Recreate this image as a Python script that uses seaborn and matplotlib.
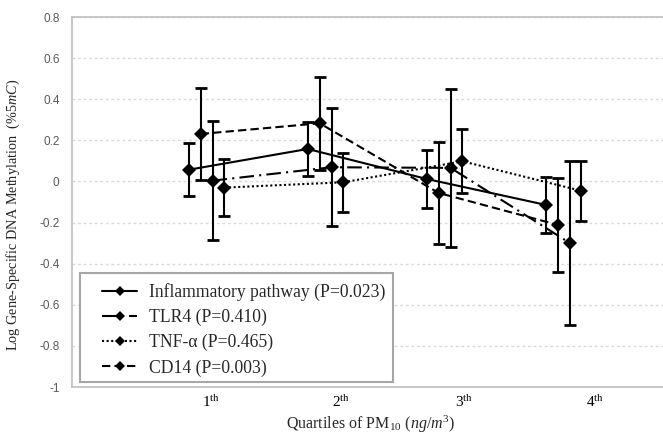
import numpy as np
import pandas as pd
import seaborn as sns
import matplotlib.pyplot as plt
from matplotlib.patches import Rectangle
from matplotlib.ticker import FuncFormatter

# quartiles of PM10 and the values
quartiles = [1, 2, 3, 4]
quartile_names = ['1', '2', '3', '4']
label_pos = [1.04, 2.13, 3.16, 4.26]

inflam = [0.057, 0.158, 0.012, -0.114]
inflam_err = [0.13, 0.13, 0.14, 0.135]
tlr4 = [0.004, 0.069, 0.066, -0.299]
tlr4_err = [0.29, 0.286, 0.385, 0.40]
tnf = [-0.03, -0.004, 0.098, -0.046]
tnf_err = [0.14, 0.143, 0.156, 0.146]
cd14 = [0.231, 0.283, -0.056, -0.211]
cd14_err = [0.225, 0.225, 0.246, 0.23]

names = ['Inflammatory pathway (P=0.023)', 'TLR4 (P=0.410)',
         'TNF-\u03b1 (P=0.465)', 'CD14 (P=0.003)']
values = [inflam, tlr4, tnf, cd14]
errors = [inflam_err, tlr4_err, tnf_err, cd14_err]
shift = [-0.15, 0.05, 0.15, -0.05]
styles = ['-', (0, (7, 2.5, 1, 2.5)), (0, (1, 1.2)), (0, (4, 2))]

sns.set_theme(style="white")
plt.rcParams['font.family'] = ['Liberation Serif', 'DejaVu Serif']
plt.rcParams['mathtext.fontset'] = 'custom'
plt.rcParams['mathtext.rm'] = 'Liberation Serif'
plt.rcParams['mathtext.it'] = 'Liberation Serif:italic'

fig = plt.figure(figsize=(6.63, 4.37), dpi=100)
ax = fig.add_axes([72 / 663, 50 / 437, 591 / 663, 370 / 437])

for name, vals, errs, dx, ls in zip(names, values, errors, shift, styles):
    df = pd.DataFrame({'x': np.array(quartiles) + dx, 'y': vals})
    ax.errorbar(df['x'], df['y'], yerr=errs, fmt='none', ecolor='black',
                elinewidth=1.5, capsize=4, capthick=2, zorder=3)
    sns.lineplot(data=df, x='x', y='y', ax=ax, color='black', lw=1.5,
                 linestyle=ls, marker='D', markersize=7, markeredgewidth=0,
                 errorbar=None, label=name, zorder=4)

ax.set_xlim(-0.131, 4.835)
ax.set_ylim(-1, 0.8)
ax.set_yticks(np.arange(-1, 0.81, 0.2))
ax.yaxis.set_major_formatter(FuncFormatter(lambda v, p: f"{round(v, 1) + 0:g}"))
ax.set_xticks(label_pos)
ax.set_xticklabels([q + r'$^{\rm th}$' for q in quartile_names], fontsize=11)
ax.tick_params(axis='x', length=0, pad=5, colors='black')
ax.tick_params(axis='y', length=4, width=1, color='#bfbfbf', pad=5,
               labelsize=8.5, labelcolor='#595959')
for lab in ax.get_yticklabels():
    lab.set_family('Liberation Sans')

ax.yaxis.grid(True, linestyle=(0, (2, 2)), color='#d9d9d9', lw=1)
ax.xaxis.grid(False)
ax.set_axisbelow(True)
for s in ['left', 'bottom', 'top']:
    ax.spines[s].set_color('#bfbfbf')
    ax.spines[s].set_linewidth(1.2)
ax.spines['right'].set_visible(False)

ax.set_ylabel(r'Log Gene-Specific DNA Methylation  $\mathit{(\%5mC)}$', fontsize=10.3)
ax.yaxis.set_label_coords(-0.085, 0.465)
ax.set_xlabel(r'Quartiles of PM$_{\rm 10}$ $\mathit{(ng/m^3)}$', fontsize=11.5)
ax.xaxis.set_label_coords(0.506, -0.072)

# legend box drawn as its own frame, legend itself without frame
ax.add_patch(Rectangle((0.0135, 0.0135), 0.5296, 0.2946, transform=ax.transAxes,
                       facecolor='white', edgecolor='#a6a6a6', lw=1.5, zorder=5))
leg = ax.legend(loc='upper left', bbox_to_anchor=(0.0508, 0.281),
                fontsize=12.7, frameon=False, handlelength=2.0,
                handletextpad=0.68, labelspacing=0.45, borderpad=0,
                borderaxespad=0)
leg.set_zorder(6)
for h in leg.legend_handles:
    h.set_markersize(5)

plt.savefig("out.png", dpi=100)
